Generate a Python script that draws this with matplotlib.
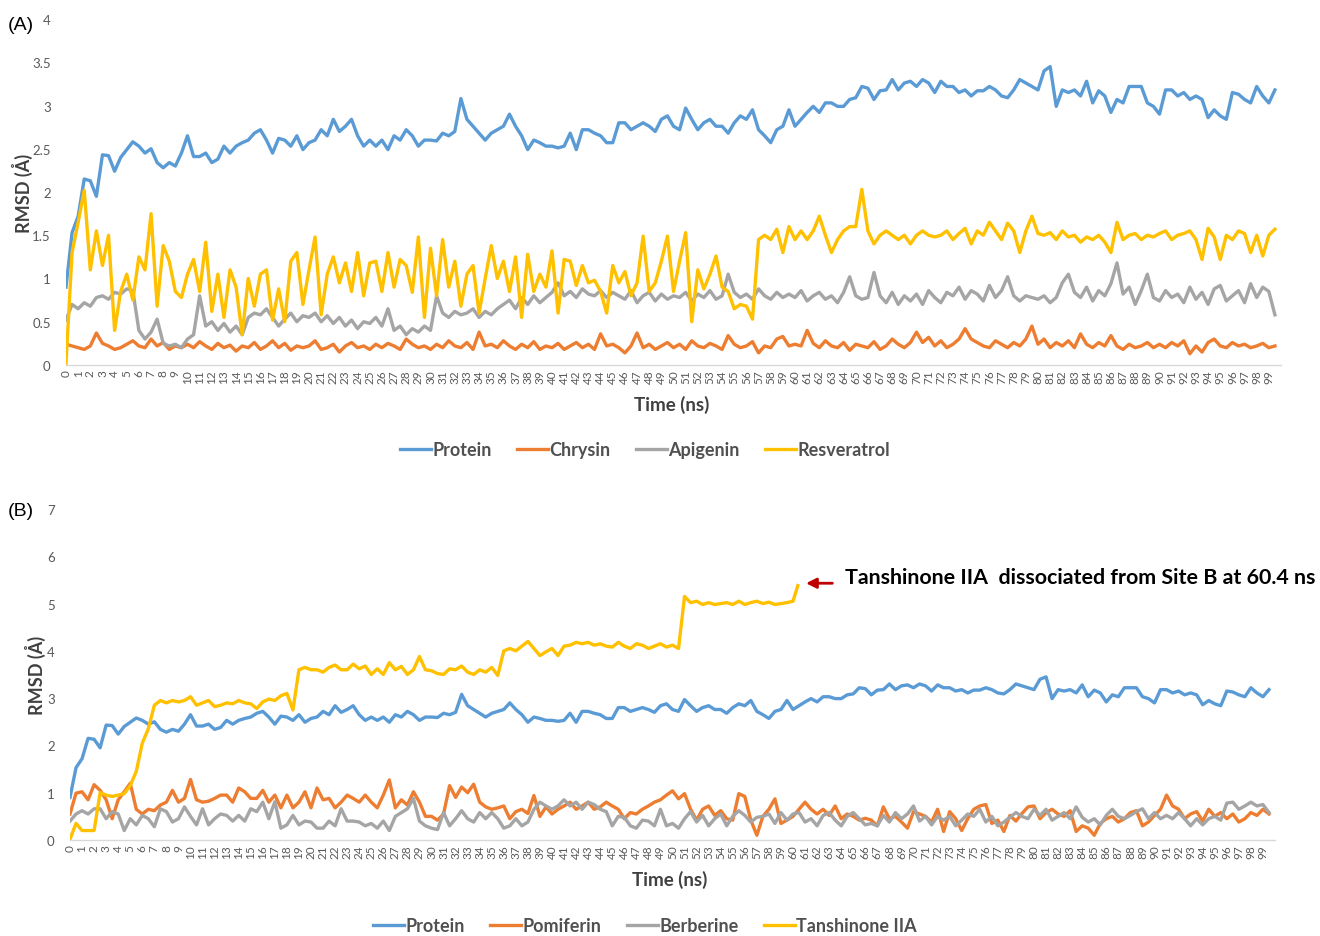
import numpy as np
import matplotlib
matplotlib.use("Agg")
import matplotlib.pyplot as plt
from matplotlib.lines import Line2D

plt.rcParams['font.family'] = ['Lato', 'DejaVu Sans']

# ---------------------------------------------------------------- data
STEP_NS = 0.5
time_ns = np.arange(200) * STEP_NS          # 0 .. 99.5 ns
tick_ns = list(range(100))
tick_labels = [str(i) for i in tick_ns]

# backbone RMSD of the protein (identical trajectory in both panels)
protein = [
    0.9, 1.53, 1.72, 2.15, 2.13, 1.95, 2.43, 2.42, 2.24, 2.4, 2.49, 2.58, 2.53, 2.45, 2.5, 2.34, 2.28, 2.34, 2.3, 2.45,
    2.65, 2.41, 2.41, 2.45, 2.34, 2.38, 2.53, 2.45, 2.53, 2.57, 2.6, 2.68, 2.72, 2.6, 2.45, 2.62, 2.6, 2.53, 2.65, 2.49,
    2.57, 2.6, 2.72, 2.65, 2.84, 2.7, 2.76, 2.84, 2.65, 2.53, 2.6, 2.53, 2.6, 2.49, 2.65, 2.6, 2.72, 2.65, 2.53, 2.6,
    2.6, 2.59, 2.68, 2.65, 2.7, 3.08, 2.84, 2.76, 2.68, 2.6, 2.68, 2.72, 2.76, 2.9, 2.76, 2.65, 2.49, 2.6, 2.57, 2.53,
    2.53, 2.51, 2.53, 2.68, 2.49, 2.72, 2.72, 2.68, 2.65, 2.57, 2.57, 2.8, 2.8, 2.72, 2.76, 2.8, 2.76, 2.7, 2.84, 2.88,
    2.76, 2.72, 2.97, 2.84, 2.72, 2.8, 2.84, 2.76, 2.76, 2.68, 2.8, 2.88, 2.84, 2.95, 2.72, 2.65, 2.57, 2.72, 2.76, 2.95,
    2.76, 2.84, 2.92, 2.99, 2.92, 3.03, 3.03, 2.99, 2.99, 3.07, 3.09, 3.22, 3.2, 3.07, 3.17, 3.18, 3.3, 3.18, 3.26, 3.28,
    3.22, 3.3, 3.26, 3.15, 3.28, 3.22, 3.22, 3.15, 3.18, 3.11, 3.17, 3.17, 3.22, 3.18, 3.11, 3.09, 3.18, 3.3, 3.26, 3.22,
    3.18, 3.4, 3.45, 2.99, 3.18, 3.15, 3.18, 3.11, 3.28, 3.03, 3.17, 3.11, 2.92, 3.07, 3.03, 3.22, 3.22, 3.22, 3.03, 2.99,
    2.9, 3.18, 3.18, 3.11, 3.15, 3.07, 3.11, 3.07, 2.86, 2.95, 2.88, 2.84, 3.15, 3.13, 3.07, 3.03, 3.22, 3.11, 3.03, 3.18,
]

# panel A ligands
chrysin = [
    0.24, 0.22, 0.2, 0.18, 0.22, 0.37, 0.25, 0.22, 0.18, 0.2, 0.24, 0.28, 0.22, 0.2, 0.3, 0.22, 0.26, 0.18, 0.22, 0.2,
    0.24, 0.2, 0.27, 0.22, 0.18, 0.25, 0.2, 0.23, 0.16, 0.22, 0.2, 0.26, 0.18, 0.22, 0.28, 0.2, 0.25, 0.17, 0.22, 0.2,
    0.22, 0.28, 0.18, 0.2, 0.24, 0.15, 0.22, 0.26, 0.2, 0.22, 0.18, 0.24, 0.2, 0.25, 0.22, 0.18, 0.3, 0.24, 0.2, 0.22,
    0.18, 0.24, 0.2, 0.28, 0.22, 0.2, 0.26, 0.18, 0.38, 0.22, 0.24, 0.2, 0.28, 0.22, 0.18, 0.24, 0.2, 0.27, 0.18, 0.22,
    0.2, 0.25, 0.18, 0.22, 0.26, 0.2, 0.24, 0.18, 0.36, 0.22, 0.24, 0.2, 0.14, 0.22, 0.37, 0.2, 0.24, 0.18, 0.22, 0.26,
    0.2, 0.24, 0.18, 0.28, 0.22, 0.2, 0.25, 0.22, 0.18, 0.34, 0.24, 0.2, 0.22, 0.27, 0.14, 0.22, 0.2, 0.3, 0.33, 0.22,
    0.24, 0.22, 0.4, 0.25, 0.2, 0.28, 0.22, 0.2, 0.26, 0.17, 0.24, 0.22, 0.2, 0.27, 0.18, 0.22, 0.3, 0.24, 0.2, 0.26,
    0.38, 0.26, 0.32, 0.22, 0.28, 0.2, 0.24, 0.3, 0.42, 0.3, 0.26, 0.22, 0.2, 0.28, 0.24, 0.2, 0.26, 0.22, 0.3, 0.45,
    0.24, 0.3, 0.2, 0.26, 0.22, 0.28, 0.2, 0.36, 0.24, 0.2, 0.26, 0.22, 0.34, 0.22, 0.18, 0.24, 0.2, 0.22, 0.26, 0.2,
    0.24, 0.2, 0.26, 0.22, 0.28, 0.13, 0.22, 0.15, 0.26, 0.3, 0.22, 0.2, 0.26, 0.22, 0.24, 0.2, 0.22, 0.25, 0.2, 0.22,
]

apigenin = [
    0.52, 0.7, 0.65, 0.72, 0.68, 0.78, 0.8, 0.76, 0.84, 0.82, 0.88, 0.86, 0.4, 0.3, 0.38, 0.53, 0.25, 0.22, 0.24, 0.2,
    0.3, 0.35, 0.8, 0.45, 0.5, 0.4, 0.48, 0.38, 0.45, 0.35, 0.55, 0.6, 0.58, 0.65, 0.55, 0.45, 0.53, 0.6, 0.5, 0.57,
    0.55, 0.6, 0.5, 0.57, 0.48, 0.55, 0.45, 0.52, 0.42, 0.5, 0.48, 0.55, 0.45, 0.65, 0.4, 0.45, 0.35, 0.42, 0.38, 0.45,
    0.4, 0.8, 0.6, 0.55, 0.62, 0.58, 0.6, 0.65, 0.55, 0.62, 0.58, 0.65, 0.7, 0.75, 0.65, 0.78, 0.7, 0.8, 0.72, 0.78,
    0.84, 0.95, 0.8, 0.85, 0.78, 0.88, 0.82, 0.8, 0.86, 0.78, 0.84, 0.8, 0.76, 0.86, 0.72, 0.8, 0.84, 0.74, 0.82, 0.76,
    0.8, 0.78, 0.84, 0.74, 0.82, 0.78, 0.86, 0.76, 0.8, 1.05, 0.84, 0.78, 0.82, 0.76, 0.88, 0.8, 0.76, 0.84, 0.78, 0.82,
    0.78, 0.86, 0.74, 0.8, 0.84, 0.76, 0.8, 0.72, 0.84, 1.02, 0.8, 0.76, 0.78, 1.07, 0.8, 0.72, 0.84, 0.7, 0.8, 0.74,
    0.82, 0.7, 0.86, 0.78, 0.72, 0.84, 0.8, 0.9, 0.76, 0.86, 0.82, 0.74, 0.92, 0.78, 0.86, 1.02, 0.8, 0.74, 0.8, 0.78,
    0.76, 0.8, 0.72, 0.78, 0.95, 1.05, 0.84, 0.78, 0.9, 0.74, 0.86, 0.8, 0.94, 1.18, 0.82, 0.9, 0.7, 0.86, 1.05, 0.78,
    0.74, 0.86, 0.78, 0.82, 0.72, 0.9, 0.76, 0.84, 0.7, 0.88, 0.92, 0.74, 0.8, 0.86, 0.72, 0.94, 0.78, 0.9, 0.85, 0.58,
]

resveratrol = [
    0.02, 1.3, 1.65, 2.02, 1.1, 1.55, 1.15, 1.5, 0.4, 0.85, 1.05, 0.75, 1.25, 1.1, 1.75, 0.68, 1.38, 1.2, 0.85, 0.78,
    1.05, 1.22, 0.85, 1.42, 0.62, 1.05, 0.55, 1.1, 0.9, 0.35, 1.0, 0.68, 1.05, 1.1, 0.52, 0.88, 0.5, 1.2, 1.3, 0.7,
    1.1, 1.48, 0.58, 1.05, 1.25, 0.95, 1.18, 0.85, 1.3, 0.8, 1.18, 1.2, 0.85, 1.3, 0.9, 1.22, 1.15, 0.84, 1.48, 0.55,
    1.35, 0.8, 1.45, 0.9, 1.2, 0.68, 1.05, 1.15, 0.6, 1.0, 1.38, 1.0, 1.2, 0.85, 1.25, 0.55, 1.28, 0.85, 1.05, 0.9,
    1.32, 0.6, 1.22, 1.2, 0.92, 1.15, 0.95, 0.98, 0.85, 0.6, 1.15, 0.95, 1.08, 0.8, 0.95, 1.49, 0.85, 0.95, 1.2, 1.49,
    0.85, 1.2, 1.53, 0.5, 1.1, 0.88, 1.05, 1.26, 0.9, 0.85, 0.65, 0.7, 0.68, 0.53, 1.45, 1.5, 1.45, 1.57, 1.3, 1.6,
    1.45, 1.55, 1.45, 1.55, 1.72, 1.5, 1.3, 1.45, 1.55, 1.6, 1.6, 2.03, 1.55, 1.4, 1.5, 1.55, 1.5, 1.45, 1.5, 1.4,
    1.5, 1.55, 1.5, 1.48, 1.5, 1.55, 1.45, 1.52, 1.58, 1.4, 1.55, 1.5, 1.65, 1.55, 1.45, 1.64, 1.55, 1.3, 1.55, 1.72,
    1.52, 1.5, 1.53, 1.45, 1.55, 1.48, 1.5, 1.42, 1.48, 1.45, 1.5, 1.42, 1.3, 1.65, 1.45, 1.5, 1.52, 1.45, 1.5, 1.48,
    1.52, 1.55, 1.45, 1.5, 1.52, 1.55, 1.45, 1.22, 1.58, 1.48, 1.22, 1.5, 1.45, 1.55, 1.52, 1.3, 1.5, 1.26, 1.5, 1.57,
]

# panel B ligands
pomiferin = [
    0.55, 0.99, 1.02, 0.85, 1.17, 1.05, 0.85, 0.45, 0.85, 1.02, 1.2, 0.65, 0.55, 0.65, 0.62, 0.74, 0.8, 1.05, 0.8, 0.88,
    1.28, 0.85, 0.8, 0.82, 0.88, 0.95, 0.95, 0.8, 1.1, 1.02, 0.88, 0.88, 1.05, 0.8, 0.95, 0.68, 0.95, 0.68, 0.8, 1.02,
    0.68, 1.1, 0.85, 0.88, 0.68, 0.8, 0.95, 0.88, 0.8, 0.95, 0.8, 0.68, 0.95, 1.27, 0.68, 0.85, 0.74, 1.02, 0.8, 0.5,
    0.5, 0.42, 0.55, 1.15, 0.9, 1.12, 1.0, 1.18, 0.8, 0.7, 0.65, 0.68, 0.72, 0.45, 0.6, 0.65, 0.56, 0.94, 0.5, 0.7,
    0.55, 0.65, 0.72, 0.8, 0.65, 0.72, 0.8, 0.65, 0.7, 0.8, 0.72, 0.65, 0.45, 0.58, 0.55, 0.65, 0.72, 0.8, 0.85, 0.95,
    1.04, 0.87, 0.98, 0.65, 0.42, 0.65, 0.72, 0.52, 0.62, 0.45, 0.42, 0.98, 0.92, 0.42, 0.1, 0.5, 0.65, 0.87, 0.35, 0.42,
    0.5, 0.65, 0.8, 0.65, 0.55, 0.65, 0.52, 0.72, 0.45, 0.55, 0.5, 0.42, 0.46, 0.42, 0.3, 0.7, 0.45, 0.5, 0.38, 0.25,
    0.6, 0.55, 0.5, 0.38, 0.65, 0.18, 0.6, 0.45, 0.2, 0.45, 0.65, 0.72, 0.75, 0.35, 0.42, 0.18, 0.52, 0.4, 0.56, 0.7,
    0.72, 0.45, 0.58, 0.65, 0.55, 0.5, 0.62, 0.18, 0.3, 0.25, 0.1, 0.35, 0.45, 0.5, 0.38, 0.45, 0.58, 0.62, 0.3, 0.38,
    0.52, 0.65, 0.95, 0.72, 0.65, 0.45, 0.55, 0.6, 0.4, 0.65, 0.5, 0.58, 0.45, 0.55, 0.38, 0.45, 0.58, 0.52, 0.65, 0.55,
]

berberine = [
    0.4, 0.55, 0.62, 0.55, 0.66, 0.66, 0.45, 0.6, 0.55, 0.2, 0.45, 0.32, 0.52, 0.45, 0.28, 0.66, 0.6, 0.38, 0.45, 0.7,
    0.5, 0.32, 0.66, 0.32, 0.45, 0.55, 0.52, 0.4, 0.52, 0.4, 0.66, 0.6, 0.8, 0.45, 0.81, 0.25, 0.32, 0.52, 0.32, 0.4,
    0.38, 0.25, 0.25, 0.4, 0.3, 0.66, 0.4, 0.4, 0.38, 0.3, 0.35, 0.25, 0.4, 0.2, 0.5, 0.58, 0.66, 0.88, 0.4, 0.3,
    0.25, 0.22, 0.58, 0.3, 0.45, 0.62, 0.45, 0.38, 0.58, 0.45, 0.58, 0.45, 0.25, 0.3, 0.45, 0.3, 0.38, 0.65, 0.8, 0.72,
    0.65, 0.72, 0.85, 0.72, 0.8, 0.65, 0.8, 0.75, 0.65, 0.6, 0.3, 0.5, 0.48, 0.3, 0.25, 0.42, 0.4, 0.3, 0.65, 0.3,
    0.35, 0.25, 0.45, 0.6, 0.38, 0.52, 0.3, 0.45, 0.55, 0.3, 0.5, 0.62, 0.52, 0.38, 0.48, 0.5, 0.55, 0.35, 0.58, 0.42,
    0.55, 0.58, 0.38, 0.45, 0.3, 0.52, 0.58, 0.42, 0.3, 0.5, 0.58, 0.45, 0.32, 0.35, 0.3, 0.52, 0.38, 0.58, 0.45, 0.55,
    0.72, 0.4, 0.5, 0.32, 0.5, 0.42, 0.5, 0.3, 0.42, 0.55, 0.5, 0.65, 0.38, 0.5, 0.3, 0.38, 0.48, 0.58, 0.5, 0.45,
    0.65, 0.52, 0.65, 0.42, 0.5, 0.58, 0.45, 0.7, 0.48, 0.38, 0.45, 0.32, 0.52, 0.65, 0.5, 0.45, 0.52, 0.6, 0.66, 0.45,
    0.58, 0.45, 0.52, 0.45, 0.58, 0.45, 0.3, 0.45, 0.32, 0.45, 0.5, 0.42, 0.78, 0.8, 0.65, 0.72, 0.8, 0.72, 0.75, 0.58,
]

# Tanshinone IIA: sampled 0 .. 60 ns, last frame at dissociation (60.4 ns)
DISSOC_NS = 60.4
tanshinone = [
    0.02, 0.35, 0.2, 0.2, 0.2, 1.0, 0.95, 0.92, 0.95, 0.98, 1.15, 1.45, 2.05, 2.35, 2.85, 2.95, 2.9, 2.95, 2.92, 2.95,
    3.03, 2.85, 2.9, 2.95, 2.82, 2.85, 2.9, 2.88, 2.95, 2.9, 2.88, 2.78, 2.92, 2.98, 2.95, 3.05, 3.1, 2.75, 3.6, 3.65,
    3.6, 3.6, 3.55, 3.65, 3.7, 3.6, 3.6, 3.72, 3.62, 3.68, 3.5, 3.62, 3.5, 3.75, 3.6, 3.67, 3.5, 3.6, 3.88, 3.6,
    3.58, 3.52, 3.5, 3.62, 3.6, 3.68, 3.55, 3.5, 3.6, 3.55, 3.65, 3.48, 4.0, 4.05, 4.0, 4.1, 4.2, 4.05, 3.9, 3.98,
    4.05, 3.9, 4.1, 4.12, 4.18, 4.15, 4.18, 4.12, 4.15, 4.1, 4.08, 4.18, 4.1, 4.05, 4.15, 4.12, 4.05, 4.1, 4.15, 4.08,
    4.12, 4.05, 5.15, 5.02, 5.05, 4.98, 5.02, 4.98, 5.0, 5.02, 4.98, 5.05, 4.98, 5.02, 5.05, 5.0, 5.03, 4.98, 5.0, 5.02,
    5.05, 5.38,
]
tanshinone_t = np.append(time_ns[:len(tanshinone) - 1], DISSOC_NS)

series_A = [("Protein", protein), ("Chrysin", chrysin),
            ("Apigenin", apigenin), ("Resveratrol", resveratrol)]
series_B = [("Protein", time_ns, protein), ("Pomiferin", time_ns, pomiferin),
            ("Berberine", time_ns, berberine), ("Tanshinone IIA", tanshinone_t, tanshinone)]

COLORS = ["#5B9BD5", "#ED7D31", "#A5A5A5", "#FFC000"]
LW = 2.4
TXT_GRAY = "#595959"

# ---------------------------------------------------------------- figure
W, H = 1320, 937
fig = plt.figure(figsize=(W / 100, H / 100), dpi=100)
fig.patch.set_facecolor("white")


def px_box(x0, x1, y_top, y_bot):
    return [x0 / W, 1 - y_bot / H, (x1 - x0) / W, (y_bot - y_top) / H]


axA = fig.add_axes(px_box(66, 1281, 20, 366))
axB = fig.add_axes(px_box(70, 1275, 510, 841))


def style_axis(ax, ymax, ystep):
    for side in ("top", "right", "left"):
        ax.spines[side].set_visible(False)
    ax.spines["bottom"].set_color("#D9D9D9")
    ax.spines["bottom"].set_linewidth(1.0)
    ax.set_xlim(0, 100)
    ax.set_ylim(0, ymax)
    ax.set_xticks(tick_ns)
    ax.set_xticklabels(tick_labels, rotation=90, fontsize=8.5, color=TXT_GRAY)
    yt = np.arange(0, ymax + ystep / 2, ystep)
    ax.set_yticks(yt)
    ax.set_yticklabels([f"{v:g}" for v in yt], fontsize=9.5, color=TXT_GRAY)
    ax.tick_params(axis="both", length=0)
    ax.tick_params(axis="x", pad=3)
    ax.tick_params(axis="y", pad=11)
    ax.set_facecolor("none")


style_axis(axA, 4, 0.5)
style_axis(axB, 7, 1)

for (name, vals), c in zip(series_A, COLORS):
    axA.plot(time_ns, vals, color=c, lw=LW, solid_joinstyle="round", label=name)

for (name, tt, vals), c in zip(series_B, COLORS):
    axB.plot(tt, vals, color=c, lw=LW, solid_joinstyle="round", label=name)

# dissociation marker
y_end = tanshinone[-1] + 0.05
axB.annotate("", xy=(DISSOC_NS + 0.45, y_end), xytext=(DISSOC_NS + 3.1, y_end),
             arrowprops=dict(arrowstyle="-|>,head_length=0.6,head_width=0.3",
                             color="#C00000", lw=2))
axB.text(DISSOC_NS + 3.9, y_end + 0.13,
         f"Tanshinone IIA  dissociated from Site B at {DISSOC_NS} ns",
         fontsize=15.4, fontweight="bold", color="black", va="center", ha="left")

# titles and panel letters
for (px, py, s) in [(672, 405, "Time (ns)"), (670, 880, "Time (ns)")]:
    fig.text(px / W, 1 - py / H, s, fontsize=13.5, fontweight="bold",
             color="#404040", ha="center", va="center")
for (px, py) in [(22, 193), (35, 675)]:
    fig.text(px / W, 1 - py / H, "RMSD (Å)", fontsize=13, fontweight="bold",
             color="#404040", ha="center", va="center", rotation=90)
for (px, py, s) in [(8, 25, "(A)"), (8, 512, "(B)")]:
    fig.text(px / W, 1 - py / H, s, fontsize=14, color="black",
             ha="left", va="center", family=["Liberation Sans", "DejaVu Sans"])

# legends
for (px, py, entries) in [(645, 451, [n for n, _ in series_A]),
                          (645, 927, [s[0] for s in series_B])]:
    handles = [Line2D([], [], color=c, lw=2.4) for c in COLORS]
    leg = fig.legend(handles, entries, loc="center", ncol=4,
                     bbox_to_anchor=(px / W, 1 - py / H), frameon=False,
                     handlelength=1.7, handletextpad=0.1, columnspacing=1.4,
                     prop=dict(weight="bold", size=13))
    for t in leg.get_texts():
        t.set_color("#505050")

fig.savefig("out.png", dpi=100, facecolor="white")
